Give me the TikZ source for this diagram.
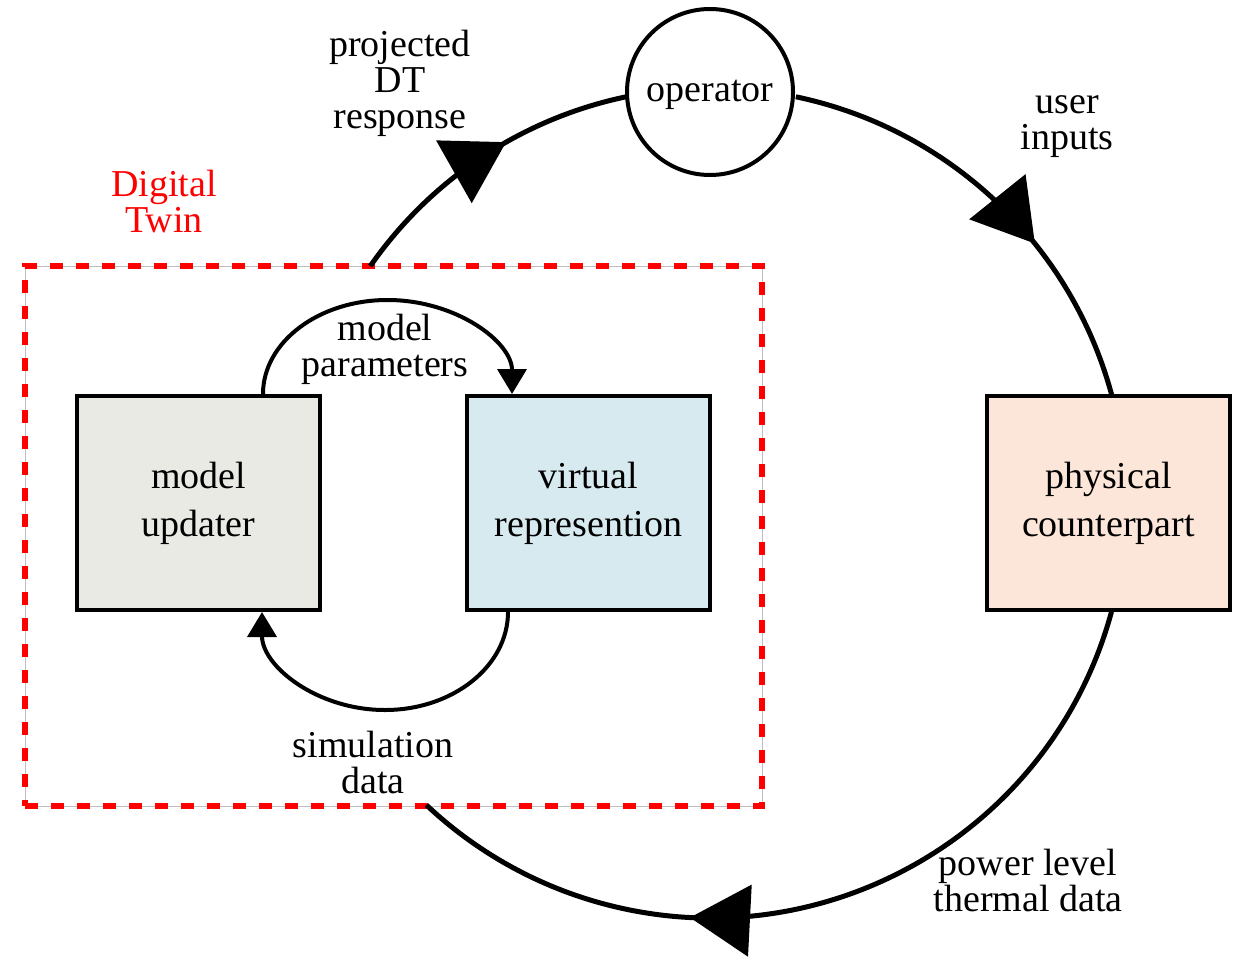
\documentclass[tikz,border=0pt]{standalone}
\usepackage{fontspec}
\setmainfont{Liberation Serif}
\usetikzlibrary{arrows.meta,decorations.markings,calc}

\begin{document}
\begin{tikzpicture}[x=0.5pt,y=-0.5pt,
  lbl/.style={font=\fontsize{19}{18}\selectfont, align=center, inner sep=0pt},
  block/.style={draw, line width=2pt, minimum width=121.5pt, minimum height=107pt,
    inner sep=0pt, font=\fontsize{19}{24}\selectfont, align=center},
  ring/.style={line width=2.5pt},
  bigtip/.style={decoration={markings, mark=at position #1 with
    {\arrow{Triangle[length=30pt,width=35.5pt]}}}, postaction={decorate}},
  inner/.style={line width=2pt, -{Triangle[length=12.5pt,width=14.5pt]}},
  dtframe/.style={draw=red, line width=3.2pt, dash pattern=on 6.5pt off 6.5pt},
]
\useasboundingbox (0,0) rectangle (1240,957);

% Digital twin frame
\draw[gray!50, line width=0.4pt] (25,266) rectangle (762,806);
\node[dtframe, minimum width=368.5pt, minimum height=270pt, inner sep=0pt] (dt) at (393.5,536) {};
\node[lbl, text=red] (dtlabel) at (164,202) {Digital\\Twin};

% Nodes
\node[draw, circle, line width=2pt, minimum size=83pt, inner sep=0pt,
      font=\fontsize{19}{24}\selectfont] (op) at (710,92)
      {\raisebox{-1.5pt}[\height][\depth]{operator}};
\node[block, fill={rgb,255:red,234;green,234;blue,229}] (mu) at (198.5,503) {model\\updater};
\node[block, fill={rgb,255:red,215;green,234;blue,240}] (vr) at (588.5,503) {virtual\\represention};
\node[block, fill={rgb,255:red,252;green,230;blue,218}] (pc) at (1108.5,503) {physical\\counterpart};

% Main loop: digital twin -> operator -> physical counterpart -> digital twin
\coordinate (C) at (711,503);
\draw[ring, bigtip=0.59] ($(C)+(-145.2:415)$) arc[start angle=-145.2, end angle=-101.8, radius=415];
\draw[ring, bigtip=0.626] ($(C)+(-78.2:415)$) arc[start angle=-78.2, end angle=-15.1, radius=415];
\draw[ring, bigtip=0.658] ($(C)+(15.2:415)$) arc[start angle=15.2, end angle=133.3, radius=415];

% Inner loop between updater and virtual representation
\draw[inner] ($(mu.north)+(64.5,0)$) arc[start angle=180, end angle=360, x radius=124.5, y radius=94];
\draw[inner] ($(vr.south)+(-80.5,0)$) arc[start angle=0, end angle=180, x radius=123, y radius=98];

% Edge labels
\node[lbl] (l1) at (400,83) {projected\\DT\\response};
\node[lbl] (l2) at (1067,127) {user\\inputs};
\node[lbl] (l3) at (385,349) {model\\parameters};
\node[lbl] (l4) at (373,762) {simulation\\data};
\node[lbl] (l5) at (1028,880) {power level\\thermal data};
\end{tikzpicture}
\end{document}
